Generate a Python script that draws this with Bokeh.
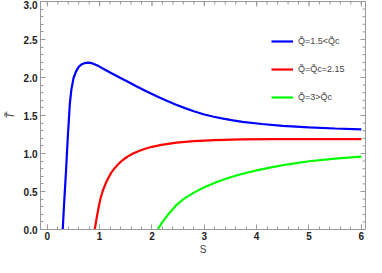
import math
from bokeh.plotting import figure
from bokeh.models import Legend, LegendItem, Range1d, FixedTicker, CustomJSTickFormatter
from bokeh.embed import file_html
from bokeh.resources import INLINE

# Data
s_blue = [0.295, 0.31, 0.326, 0.345, 0.36, 0.375, 0.39, 0.41, 0.43, 0.46, 0.50, 0.55, 0.60, 0.66,
          0.72, 0.78, 0.84, 0.90, 0.98, 1.07, 1.2, 1.38, 1.55, 1.7, 1.9, 2.1, 2.26, 2.45, 2.63,
          2.8, 3.0, 3.18, 3.36, 3.55, 3.73, 4.1, 4.5, 5.0, 5.5, 6.0]
t_blue = [0.0, 0.2, 0.4, 0.62, 0.8, 1.0, 1.2, 1.42, 1.65, 1.84, 1.99, 2.08, 2.14, 2.175,
          2.19, 2.195, 2.19, 2.175, 2.15, 2.115, 2.065, 2.0, 1.94, 1.885, 1.815, 1.75, 1.70, 1.645, 1.597,
          1.556, 1.513, 1.484, 1.458, 1.435, 1.417, 1.388, 1.364, 1.343, 1.329, 1.318]

s_red = [0.907, 0.93, 0.956, 0.985, 1.016, 1.06, 1.108, 1.16, 1.22, 1.29, 1.37, 1.45, 1.54, 1.64,
         1.75, 1.87, 2.0, 2.18, 2.47, 2.8, 3.2, 3.7, 4.3, 5.0, 6.0]
t_red = [0.0, 0.10, 0.20, 0.305, 0.405, 0.51, 0.595, 0.672, 0.745, 0.81, 0.87, 0.918, 0.962, 1.0,
         1.034, 1.063, 1.088, 1.114, 1.143, 1.164, 1.177, 1.185, 1.189, 1.19, 1.19]

s_green = [2.11, 2.2, 2.3, 2.45, 2.6, 2.8, 3.0, 3.25, 3.5, 3.75, 4.0, 4.3, 4.6, 5.0, 5.5, 6.0]
t_green = [0.0, 0.1, 0.19, 0.31, 0.40, 0.485, 0.555, 0.628, 0.688, 0.737, 0.778, 0.821, 0.858, 0.898,
           0.933, 0.96]

labels = ["Q\u0303=1.5<Q\u0303c", "Q\u0303=Q\u0303c=2.15", "Q\u0303=3>Q\u0303c"]
x_ticks = [0, 1, 2, 3, 4, 5, 6]
y_ticks = [0.0, 0.5, 1.0, 1.5, 2.0, 2.5, 3.0]
x_minor = [i / 5 for i in range(0, 31)]
y_minor = [i / 10 for i in range(31)]

X_MIN, X_MAX = -0.13, 6.08
Y_MIN, Y_MAX = 0.0, 3.0

p = figure(width=366, height=257, output_backend="svg", toolbar_location=None,
           x_range=Range1d(X_MIN, X_MAX), y_range=Range1d(Y_MIN, Y_MAX),
           min_border_left=32, min_border_right=1, min_border_top=1, min_border_bottom=0)
p.grid.visible = False
p.outline_line_color = "#999999"
p.background_fill_color = "white"
p.border_fill_color = "white"

tick_color = "#999999"

def style_axis(ax):
    ax.major_tick_in = 5
    ax.major_tick_out = 0
    ax.minor_tick_in = 3
    ax.minor_tick_out = 0
    ax.major_tick_line_color = tick_color
    ax.minor_tick_line_color = tick_color
    ax.axis_line_color = tick_color
    ax.major_label_text_font = "Liberation Sans"
    ax.major_label_text_font_style = "bold"
    ax.major_label_text_color = "#222222"
    ax.major_label_text_font_size = "10px"
    ax.major_label_standoff = 3

xa = p.xaxis[0]
ya = p.yaxis[0]
xa.ticker = FixedTicker(ticks=x_ticks, minor_ticks=x_minor)
ya.ticker = FixedTicker(ticks=y_ticks, minor_ticks=y_minor)
style_axis(xa)
style_axis(ya)
xa.major_label_standoff = 2
ya.formatter = CustomJSTickFormatter(code="return tick.toFixed(1);")

xa.axis_label = "S"
xa.axis_label_text_font = "Liberation Sans"
xa.axis_label_text_font_style = "normal"
xa.axis_label_text_font_size = "10px"
xa.axis_label_standoff = 1
ya.axis_label = "T\u0303"
ya.axis_label_text_font = "Liberation Sans"
ya.axis_label_text_font_style = "italic"
ya.axis_label_text_font_size = "11px"
ya.axis_label_standoff = 5

# Frame ticks on the top and right edges (inward), lengths in screen pixels
p.ray(x=x_ticks, y=[Y_MAX] * len(x_ticks), length=5, length_units="screen",
      angle=-math.pi / 2, line_color=tick_color, line_width=1)
p.ray(x=x_minor, y=[Y_MAX] * len(x_minor), length=3, length_units="screen",
      angle=-math.pi / 2, line_color=tick_color, line_width=1)
p.ray(x=[X_MAX] * len(y_ticks), y=y_ticks, length=5, length_units="screen",
      angle=math.pi, line_color=tick_color, line_width=1)
p.ray(x=[X_MAX] * len(y_minor), y=y_minor, length=3, length_units="screen",
      angle=math.pi, line_color=tick_color, line_width=1)

r1 = p.line(s_blue, t_blue, line_color="#0000ff", line_width=2.2)
r2 = p.line(s_red, t_red, line_color="#ff0000", line_width=2.2)
r3 = p.line(s_green, t_green, line_color="#00ff00", line_width=2.2)

legend = Legend(items=[LegendItem(label=labels[0], renderers=[r1]),
                       LegendItem(label=labels[1], renderers=[r2]),
                       LegendItem(label=labels[2], renderers=[r3])],
                location=(231, 122), padding=0, margin=0, spacing=8,
                glyph_width=22, glyph_height=20, label_height=20, label_standoff=5,
                border_line_color=None, background_fill_alpha=0,
                label_text_font="Liberation Sans", label_text_font_size="9px")
p.add_layout(legend, "center")

open("out.html", "w").write(file_html(p, INLINE))
